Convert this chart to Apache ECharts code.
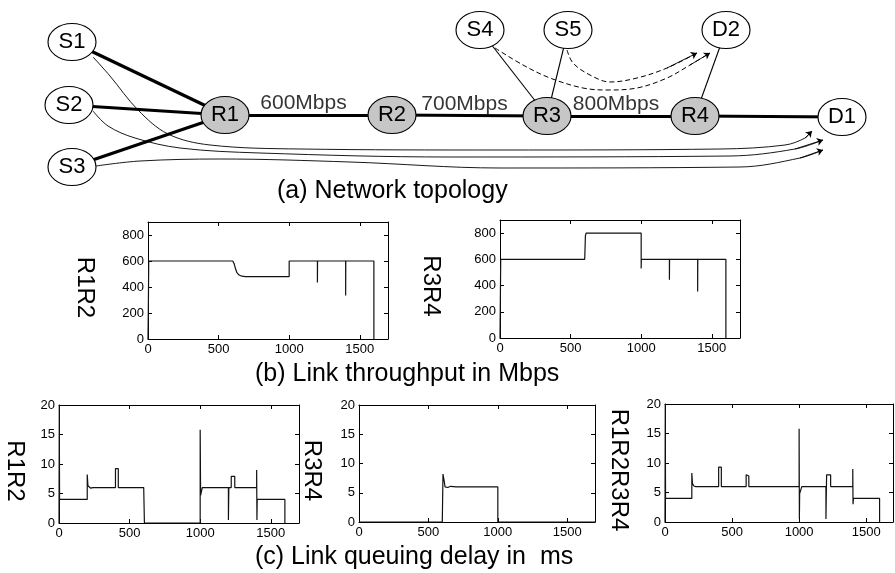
<!DOCTYPE html>
<html><head><meta charset="utf-8">
<script src="https://cdn.jsdelivr.net/npm/echarts@6/dist/echarts.min.js"></script>
<style>html,body{margin:0;padding:0;background:#fff}#c{width:895px;height:573px}</style>
</head><body><div id="c"></div>
<script>
// ---------- topology data ----------
const nodeNames = ['S1','S2','S3','R1','R2','R3','R4','D1','S4','S5','D2'];
const nodeX = [72, 69, 72, 225, 392, 547, 695, 842, 480, 568, 726];
const nodeY = [42, 105, 167, 115, 115, 116, 116, 117, 30, 30, 30];
const routerNodes = ['R1','R2','R3','R4'];
const thickLinks = [['S1','R1'],['S2','R1'],['S3','R1'],['R1','R2'],['R2','R3'],['R3','R4'],['R4','D1']];
const thinLinks = [['S4','R3'],['S5','R3'],['D2','R4']];
const rateLinks = [['R1','R2'],['R2','R3'],['R3','R4']];
const rateLabels = ['600Mbps','700Mbps','800Mbps'];
const flowS1 = [[93,57],[110,76],[138,110],[168,134],[210,145],[300,149],[500,150],[720,149],[785,145],[805,138],[812,131]];
const flowS2 = [[93,111],[108,126],[135,138],[180,148],[260,153],[450,157],[730,156],[795,149],[823,140]];
const flowS3 = [[96,166],[140,161],[220,159],[350,162],[500,168],[740,167],[800,158],[823,150]];
const flowS4 = [[495,48],[523,65],[550,78],[583,88],[607,90],[637,88],[667,78],[690,65],[710,53]];
const flowS5 = [[567,50],[573,63],[590,75],[610,82],[637,78],[667,68],[697,53]];

// ---------- measurement data ----------
const timeTicks = [0, 500, 1000, 1500];
const thrTicks = [0, 200, 400, 600, 800];
const delayTicks = [0, 5, 10, 15, 20];
const thrR1R2 = [[0,0],[3,300],[5,600],[600,600],[610,580],[620,540],[630,510],[645,492],[665,483],[690,480],[1000,480],[1000,600],[1200,600],[1200,435],[1201,600],[1400,600],[1400,335],[1401,600],[1600,600],[1600,0]];
const thrR3R4 = [[0,0],[3,350],[5,600],[600,600],[605,780],[610,800],[1000,800],[1000,530],[1001,600],[1200,600],[1200,445],[1201,600],[1400,600],[1400,355],[1401,600],[1600,600],[1600,0]];
const delayR1R2 = [[0,0],[2,20],[4,4],[200,4],[200,8.2],[205,6.3],[215,6.1],[225,5.9],[240,6],[400,6],[400,9.2],[420,9.2],[420,6],[600,6],[603,5.8],[605,0],[1000,0],[1000,15.8],[1003,4.7],[1012,4.8],[1015,6],[1200,6],[1200,0.5],[1203,6],[1220,6],[1220,7.9],[1245,7.9],[1245,6],[1400,6],[1400,9],[1402,0.5],[1404,4],[1600,4],[1600,0]];
const delayR3R4 = [[0,0],[600,0],[605,8.2],[610,7.9],[615,6.8],[620,6],[625,5.8],[640,5.9],[660,6.1],[700,6],[1000,6],[1000,0],[1700,0]];
const delayPath = [[0,0],[2,20],[4,4],[200,4],[200,8.3],[205,6.5],[215,6.1],[230,6],[400,6],[400,9.3],[420,9.3],[420,6],[605,6],[605,8],[625,7.8],[625,6],[1000,6],[1000,15.8],[1002,0.5],[1004,4.8],[1018,4.8],[1020,6],[1200,6],[1200,0.5],[1205,8],[1235,8],[1235,6],[1400,6],[1400,9],[1402,3],[1405,4],[1600,4],[1600,0]];
const captions = ['(a) Network topology','(b) Link throughput in Mbps','(c) Link queuing delay in  ms'];

const FONT = 'Liberation Sans, Arial, Helvetica, sans-serif';
const ELLIPSE = 'path://M0,50C0,22.4,22.4,0,50,0C77.6,0,100,22.4,100,50C100,77.6,77.6,100,50,100C22.4,100,0,77.6,0,50Z';

function pos(n){ const i = nodeNames.indexOf(n); return [nodeX[i], nodeY[i]]; }

const panels = [
  {grid:{left:148,top:222,width:240,height:117}, data:thrR1R2, yt:thrTicks, yMax:900, name:'R1R2', gap:51},
  {grid:{left:500,top:220,width:240,height:118}, data:thrR3R4, yt:thrTicks, yMax:900, name:'R3R4', gap:57},
  {grid:{left:59,top:405,width:240,height:118}, data:delayR1R2, yt:delayTicks, yMax:20, name:'R1R2', gap:32},
  {grid:{left:359,top:405,width:236,height:117}, data:delayR3R4, yt:delayTicks, yMax:20, name:'R3R4', gap:35},
  {grid:{left:665,top:404,width:228,height:118}, data:delayPath, yt:delayTicks, yMax:20, name:'R1R2R3R4', gap:34}
];

const grids = [{left:0,top:0,width:895,height:573}];
const xAxes = [{type:'value',gridIndex:0,min:0,max:895,show:false}];
const yAxes = [{type:'value',gridIndex:0,min:0,max:573,inverse:true,show:false}];
const series = [];
const plain = v => String(v);

const lineBlack = {color:'#000',width:1};
panels.forEach((p,k)=>{
  const g = k+1;
  grids.push(p.grid);
  const yInt = p.yt[1]-p.yt[0];
  const tick = {show:true,inside:true,length:4,lineStyle:{color:'#000',width:1}};
  xAxes.push({type:'value',gridIndex:g,position:'bottom',min:timeTicks[0],max:1700,interval:timeTicks[1]-timeTicks[0],
    axisLine:{show:true,onZero:false,lineStyle:lineBlack},axisTick:tick,splitLine:{show:false},
    axisLabel:{color:'#000',fontSize:13,fontFamily:FONT,margin:4,formatter:plain,showMaxLabel:false,showMinLabel:true}});
  xAxes.push({type:'value',gridIndex:g,position:'top',min:timeTicks[0],max:1700,interval:timeTicks[1]-timeTicks[0],
    axisLine:{show:true,onZero:false,lineStyle:lineBlack},axisTick:tick,splitLine:{show:false},axisLabel:{show:false}});
  yAxes.push({type:'value',gridIndex:g,position:'left',min:p.yt[0],max:p.yMax,interval:yInt,
    axisLine:{show:true,onZero:false,lineStyle:lineBlack},axisTick:tick,splitLine:{show:false},
    axisLabel:{color:'#000',fontSize:13,fontFamily:FONT,margin:4,formatter:plain,showMaxLabel:p.yMax===p.yt[p.yt.length-1],showMinLabel:true},
    name:p.name,nameLocation:'middle',nameRotate:-90,nameGap:p.gap,
    nameTextStyle:{color:'#000',fontSize:24,fontFamily:FONT,padding:[0,0,0,14]}});
  yAxes.push({type:'value',gridIndex:g,position:'right',min:p.yt[0],max:p.yMax,interval:yInt,
    axisLine:{show:true,onZero:false,lineStyle:lineBlack},axisTick:tick,splitLine:{show:false},axisLabel:{show:false}});
  series.push({type:'line',xAxisIndex:2*k+1,yAxisIndex:2*k+1,data:p.data,showSymbol:false,symbol:'none',
    lineStyle:{color:'#111',width:1.2},clip:true,z:3});
});

// topology: straight links
series.push({type:'lines',coordinateSystem:'cartesian2d',xAxisIndex:0,yAxisIndex:0,z:2,
  lineStyle:{color:'#000',width:3.2,opacity:1},
  data:thickLinks.map(l=>({coords:[pos(l[0]),pos(l[1])]}))});
series.push({type:'lines',coordinateSystem:'cartesian2d',xAxisIndex:0,yAxisIndex:0,z:2,
  lineStyle:{color:'#000',width:1.1,opacity:1},
  data:thinLinks.map(l=>({coords:[pos(l[0]),pos(l[1])]}))});
// flows
[[flowS1,'solid'],[flowS2,'solid'],[flowS3,'solid'],[flowS4,[5,3]],[flowS5,[5,3]]].forEach(f=>{
  series.push({type:'line',xAxisIndex:0,yAxisIndex:0,data:f[0],smooth:0.35,showSymbol:false,symbol:'none',z:2,
    lineStyle:{color:'#000',width:f[1]==='solid'?0.9:1,type:f[1]}});
  const n = f[0].length;
  series.push({type:'lines',coordinateSystem:'cartesian2d',xAxisIndex:0,yAxisIndex:0,z:2,
    symbol:['none','arrow'],symbolSize:6,lineStyle:{color:'#000',width:0.9,opacity:1},
    data:[{coords:[f[0][n-2],f[0][n-1]]}]});
});
// rate labels
series.push({type:'scatter',xAxisIndex:0,yAxisIndex:0,symbolSize:0,z:4,
  label:{show:true,position:'top',distance:1,offset:[-5,0],formatter:'{b}',color:'#000',fontSize:21,fontFamily:FONT},
  data:rateLinks.map((l,i)=>{const a=pos(l[0]),b=pos(l[1]);return {name:rateLabels[i],value:[(a[0]+b[0])/2,(a[1]+b[1])/2]};})});
// nodes
series.push({type:'scatter',xAxisIndex:0,yAxisIndex:0,symbol:ELLIPSE,symbolSize:[48,37],z:5,
  label:{show:true,position:'inside',formatter:'{b}',color:'#000',fontSize:22,fontFamily:FONT},
  data:nodeNames.map((n,i)=>({name:n,value:[nodeX[i],nodeY[i]],
    itemStyle:{color:routerNodes.includes(n)?'#c6c6c6':'#fff',borderColor:'#000',borderWidth:1,opacity:1}}))});

const titleStyle = {color:'#000',fontSize:25,fontWeight:'normal',fontFamily:FONT};
const option = {
  animation:false,
  backgroundColor:'#fff',
  title:[
    {text:captions[0],left:277,top:179,padding:0,textStyle:titleStyle},
    {text:captions[1],left:255,top:362,padding:0,textStyle:titleStyle},
    {text:captions[2],left:255,top:545,padding:0,textStyle:titleStyle}
  ],
  grid:grids, xAxis:xAxes, yAxis:yAxes, series:series
};
const chart = echarts.init(document.getElementById('c'),null,{renderer:'canvas'});
chart.setOption(option);
</script></body></html>
